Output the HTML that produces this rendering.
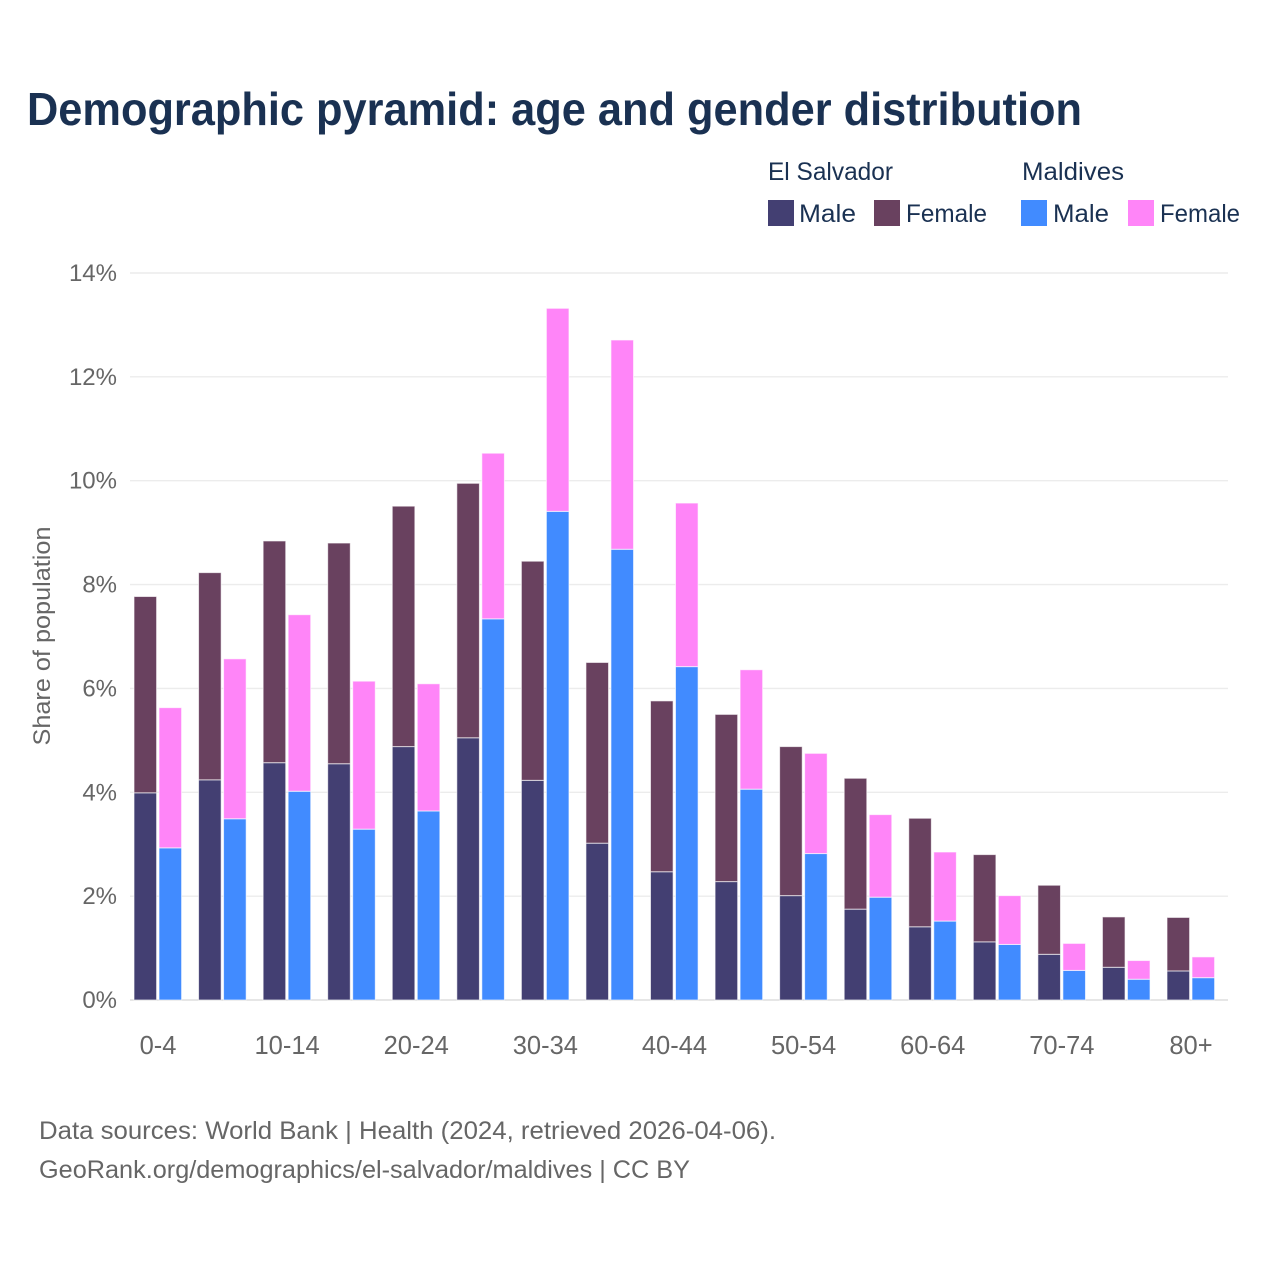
<!DOCTYPE html>
<html lang="en">
<head>
<meta charset="utf-8">
<title>Demographic pyramid: age and gender distribution</title>
<style>
  html, body { margin: 0; padding: 0; background: #fff; }
  svg { display: block; }
  text { font-family: "Liberation Sans", "DejaVu Sans", sans-serif; }
</style>
</head>
<body>
<svg id="chart" xmlns="http://www.w3.org/2000/svg" width="1280" height="1280" viewBox="0 0 1280 1280">
  <rect x="0" y="0" width="1280" height="1280" fill="#ffffff"/>
  <text x="27" y="125" font-size="46" font-weight="700" fill="#1a3152" textLength="1055" lengthAdjust="spacingAndGlyphs">Demographic pyramid: age and gender distribution</text>

  <g>
    <text x="768" y="180" font-size="25" fill="#1a3152" textLength="125" lengthAdjust="spacingAndGlyphs">El Salvador</text>
    <text x="1022" y="180" font-size="25" fill="#1a3152" textLength="102" lengthAdjust="spacingAndGlyphs">Maldives</text>
    <rect x="768" y="200" width="26" height="26" fill="#433f72"/>
    <text x="799" y="222" font-size="25" fill="#1a3152" textLength="57" lengthAdjust="spacingAndGlyphs">Male</text>
    <rect x="874" y="200" width="26" height="26" fill="#69415f"/>
    <text x="906" y="222" font-size="25" fill="#1a3152" textLength="81" lengthAdjust="spacingAndGlyphs">Female</text>
    <rect x="1021" y="200" width="26" height="26" fill="#418bff"/>
    <text x="1053" y="222" font-size="25" fill="#1a3152" textLength="56" lengthAdjust="spacingAndGlyphs">Male</text>
    <rect x="1128" y="200" width="26" height="26" fill="#ff85f8"/>
    <text x="1160" y="222" font-size="25" fill="#1a3152" textLength="80" lengthAdjust="spacingAndGlyphs">Female</text>
  </g>

  <g id="grid"></g>
  <g id="y-ticks"></g>
  <g id="bars"></g>
  <g id="x-ticks"></g>

  <text transform="translate(50,636) rotate(-90)" text-anchor="middle" font-size="24" fill="#666666" textLength="219" lengthAdjust="spacingAndGlyphs">Share of population</text>

  <text x="39" y="1139" font-size="25" fill="#666666" textLength="737" lengthAdjust="spacingAndGlyphs">Data sources: World Bank | Health (2024, retrieved 2026-04-06).</text>
  <text x="39" y="1178" font-size="25" fill="#666666" textLength="651" lengthAdjust="spacingAndGlyphs">GeoRank.org/demographics/el-salvador/maldives | CC BY</text>
</svg>

<script>
const categories = ["0-4","5-9","10-14","15-19","20-24","25-29","30-34","35-39","40-44","45-49","50-54","55-59","60-64","65-69","70-74","75-79","80+"];
const xTickLabels = ["0-4","","10-14","","20-24","","30-34","","40-44","","50-54","","60-64","","70-74","","80+"];
const yTickValues = [0, 2, 4, 6, 8, 10, 12, 14];
const elSalvadorMale = [3.99,4.24,4.57,4.55,4.88,5.05,4.23,3.02,2.47,2.28,2.01,1.75,1.41,1.12,0.88,0.63,0.56];
const elSalvadorFemale = [3.78,3.99,4.27,4.25,4.63,4.90,4.22,3.48,3.29,3.22,2.87,2.52,2.09,1.68,1.33,0.97,1.03];
const maldivesMale = [2.93,3.49,4.02,3.29,3.64,7.34,9.41,8.68,6.42,4.06,2.82,1.98,1.52,1.07,0.57,0.40,0.43];
const maldivesFemale = [2.70,3.08,3.40,2.85,2.45,3.19,3.91,4.03,3.15,2.30,1.93,1.59,1.33,0.94,0.52,0.36,0.40];

const SVG_NS = "http://www.w3.org/2000/svg";
const COLORS = { esMale: "#433f72", esFemale: "#69415f", mvMale: "#418bff", mvFemale: "#ff85f8" };

function yScale(v) { return 1000 - v * (727 / 14); }
function xCenter(i) { return 158 + i * ((1191 - 158) / (categories.length - 1)); }

function makeBar(x, v0, v1, fill, name) {
  const el = document.createElementNS(SVG_NS, "rect");
  
  
  el.setAttribute("x", x);
  el.setAttribute("y", yScale(v1));
  el.setAttribute("width", 22.6);
  el.setAttribute("height", Math.max(0, yScale(v0) - yScale(v1)));
  el.setAttribute("fill", fill);
  el.setAttribute("stroke", "#ffffff");
  el.setAttribute("stroke-opacity", "0.65");
  el.setAttribute("stroke-width", "1");
  return el;
}

const gridGroup = document.getElementById("grid");
const yTickGroup = document.getElementById("y-ticks");
yTickValues.forEach(function (t) {
  const line = document.createElementNS(SVG_NS, "line");
  
  
  line.setAttribute("x1", 130);
  line.setAttribute("x2", 1228);
  line.setAttribute("y1", yScale(t));
  line.setAttribute("y2", yScale(t));
  line.setAttribute("stroke", t === 0 ? "#e6e6e6" : "#ececec");
  line.setAttribute("stroke-width", t === 0 ? 2 : 1.4);
  gridGroup.appendChild(line);

  const label = document.createElementNS(SVG_NS, "text");
  
  
  label.setAttribute("x", 117);
  label.setAttribute("y", yScale(t) + 8);
  label.setAttribute("text-anchor", "end");
  label.setAttribute("font-size", "24");
  label.setAttribute("fill", "#666666");
  label.textContent = t + "%";
  yTickGroup.appendChild(label);
});

const barGroup = document.getElementById("bars");
categories.forEach(function (cat, i) {
  const left = xCenter(i) - 24;
  const right = xCenter(i) + 1;
  barGroup.appendChild(makeBar(left, 0, elSalvadorMale[i], COLORS.esMale, "bar-el-salvador-male-" + cat));
  barGroup.appendChild(makeBar(left, elSalvadorMale[i], elSalvadorMale[i] + elSalvadorFemale[i], COLORS.esFemale, "bar-el-salvador-female-" + cat));
  barGroup.appendChild(makeBar(right, 0, maldivesMale[i], COLORS.mvMale, "bar-maldives-male-" + cat));
  barGroup.appendChild(makeBar(right, maldivesMale[i], maldivesMale[i] + maldivesFemale[i], COLORS.mvFemale, "bar-maldives-female-" + cat));
});

const xTickGroup = document.getElementById("x-ticks");
xTickLabels.forEach(function (lab, i) {
  if (!lab) return;
  const label = document.createElementNS(SVG_NS, "text");
  
  
  label.setAttribute("x", xCenter(i));
  label.setAttribute("y", 1054);
  label.setAttribute("text-anchor", "middle");
  label.setAttribute("font-size", "25.5");
  label.setAttribute("fill", "#666666");
  label.textContent = lab;
  xTickGroup.appendChild(label);
});
</script>
</body>
</html>
